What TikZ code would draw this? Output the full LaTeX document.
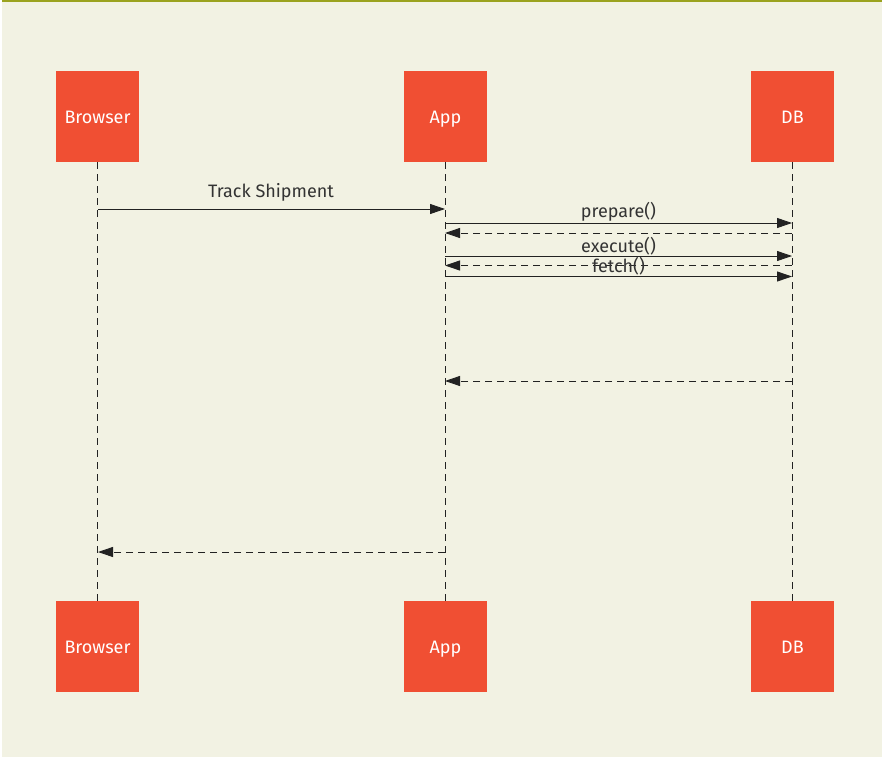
\documentclass[tikz,border=0pt]{standalone}
\usepackage{fontspec}
\setmainfont{Fira Sans}
\usetikzlibrary{arrows.meta}
\definecolor{bg}{HTML}{F2F2E3}
\definecolor{olive}{HTML}{9BA31E}
\definecolor{boxred}{HTML}{F04F33}
\definecolor{ink}{HTML}{222222}
\definecolor{txt}{HTML}{333333}
\tikzset{
  actor/.style={fill=boxred, draw=none, minimum width=83pt, minimum height=91pt, inner sep=0pt, text=white, font=\fontsize{18}{21}\selectfont, text height=13pt, text depth=0pt},
  life/.style={draw=ink, line width=0.9pt, dash pattern=on 7pt off 5pt},
  msg/.style={draw=ink, line width=0.9pt, -{Triangle[length=15pt,width=10pt]}},
  ret/.style={msg, dash pattern=on 7pt off 5pt},
  lbl/.style={text=txt, font=\fontsize{18}{21}\selectfont, inner sep=0pt, anchor=base}
}
\begin{document}
\begin{tikzpicture}[x=1pt,y=-1pt]
\useasboundingbox (0,0) rectangle (882,757);
\fill[white] (0,0) rectangle (882,757);
\fill[bg] (2,0) rectangle (882,757);
\fill[olive] (2,0) rectangle (882,2.5);
% actors
\node[actor] (bT) at (97.5,116.5) {Browser};
\node[actor] (aT) at (445.5,116.5) {App};
\node[actor] (dT) at (792.5,116.5) {DB};
\node[actor] (bB) at (97.5,646.5) {Browser};
\node[actor] (aB) at (445.5,646.5) {App};
\node[actor] (dB) at (792.5,646.5) {DB};
% lifelines
\draw[life] (bT.south) -- (bB.north);
\draw[life] (aT.south) -- (aB.north);
\draw[life] (dT.south) -- (dB.north);
% message endpoints
\coordinate (b1) at (98,209);  \coordinate (a1) at (445,209);
\coordinate (a2) at (445,223); \coordinate (d2) at (792,223);
\coordinate (d3) at (792,233); \coordinate (a3) at (445,233);
\coordinate (a4) at (445,256); \coordinate (d4) at (792,256);
\coordinate (d5) at (792,265.5); \coordinate (a5) at (445,265.5);
\coordinate (a6) at (445,276.5); \coordinate (d6) at (792,276.5);
\coordinate (d7) at (792,381); \coordinate (a7) at (445,381);
\coordinate (a8) at (445,552); \coordinate (b8) at (98,552);
% messages
\draw[msg] (b1) -- (a1);
\draw[msg] (a2) -- (d2);
\draw[ret] (d3) -- (a3);
\draw[msg] (a4) -- (d4);
\draw[ret] (d5) -- (a5);
\draw[msg] (a6) -- (d6);
\draw[ret] (d7) -- (a7);
\draw[ret] (a8) -- (b8);
% labels
\node[lbl] (l1) at (271,197) {Track Shipment};
\node[lbl] (l2) at (618.5,217) {prepare()};
\node[lbl] (l3) at (618.5,252) {execute()};
\node[lbl] (l4) at (618.5,272) {fetch()};
\end{tikzpicture}
\end{document}
